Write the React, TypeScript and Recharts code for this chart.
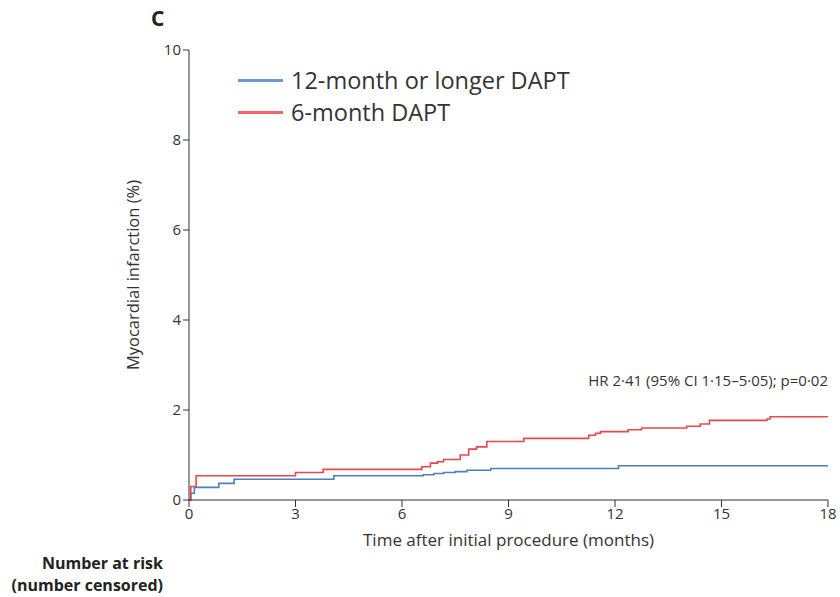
import React from 'react';
import { LineChart, Line, XAxis, YAxis, Label } from 'recharts';

// months after procedure / cumulative MI (%)
const longerTimes = [0, 0.05, 0.15, 0.84, 1.27, 4.08, 6.6, 6.9, 7.17, 7.5, 7.83, 8.5, 12.1, 18];
const longerValues = [0, 0.15, 0.28, 0.37, 0.46, 0.54, 0.56, 0.59, 0.61, 0.63, 0.66, 0.7, 0.76, 0.76];

const sixTimes = [0, 0.05, 0.2, 3.0, 3.78, 6.56, 6.8, 7.0, 7.17, 7.64, 7.88, 8.1, 8.39, 9.43, 11.26, 11.45, 11.59, 12.37, 12.75, 14.02, 14.4, 14.66, 16.28, 16.37, 18];
const sixValues = [0, 0.3, 0.54, 0.61, 0.68, 0.74, 0.82, 0.85, 0.9, 1.0, 1.13, 1.18, 1.3, 1.37, 1.44, 1.48, 1.52, 1.56, 1.6, 1.64, 1.69, 1.77, 1.8, 1.85, 1.85];

const xTicks = [0, 3, 6, 9, 12, 15, 18];
const yTicks = [0, 2, 4, 6, 8, 10];

const seriesNames = ['12-month or longer DAPT', '6-month DAPT'];
const riskLabels = ['Number at risk', '(number censored)'];
const BLUE = '#4a7fc0';
const RED = '#e5484d';
const FONT = '"Open Sans", Lato, sans-serif';
const INK = '#333';

const toPoints = (ts: number[], vs: number[]) => ts.map((t, i) => ({ t, v: vs[i] }));
const longerData = toPoints(longerTimes, longerValues);
const sixData = toPoints(sixTimes, sixValues);

export default function App() {
  const tickStyle = { fontSize: 15, fill: INK, fontFamily: FONT };
  return (
    <div style={{ position: 'absolute', left: 0, top: 0, width: 840, height: 597, background: '#fff', fontFamily: FONT }}>
      <div style={{ position: 'absolute', left: 151, top: 4, fontSize: 21, fontWeight: 700, color: '#222' }}>C</div>
      <LineChart width={840} height={597} margin={{ top: 50, right: 12, bottom: 49, left: 129 }}>
        <XAxis
          type="number"
          dataKey="t"
          domain={[0, 18]}
          ticks={xTicks}
          interval={0}
          height={48}
          tick={tickStyle}
          tickSize={7}
          tickMargin={1}
          stroke={INK}
          allowDataOverflow
        >
          <Label value="Time after initial procedure (months)" position="insideBottom" offset={2} style={{ fontSize: 17, fill: INK, fontFamily: FONT }} />
        </XAxis>
        <YAxis
          type="number"
          domain={[0, 10]}
          ticks={yTicks}
          interval={0}
          width={60}
          tick={tickStyle}
          tickSize={6}
          tickMargin={2}
          stroke={INK}
        >
          <Label value="Myocardial infarction (%)" angle={-90} position="insideLeft" offset={4} style={{ fontSize: 16.5, fill: INK, fontFamily: FONT, textAnchor: 'middle' }} />
        </YAxis>
        <Line data={longerData} dataKey="v" type="stepAfter" stroke={BLUE} strokeWidth={1.6} dot={false} isAnimationActive={false} name={seriesNames[0]} />
        <Line data={sixData} dataKey="v" type="stepAfter" stroke={RED} strokeWidth={1.6} dot={false} isAnimationActive={false} name={seriesNames[1]} />
      </LineChart>
      <div style={{ position: 'absolute', left: 238, top: 64, fontSize: 23.5, color: INK }}>
        {seriesNames.map((name, i) => (
          <div key={name} style={{ display: 'flex', alignItems: 'center', height: 32, whiteSpace: 'nowrap' }}>
            <span style={{ display: 'inline-block', width: 45, height: 3, background: i === 0 ? '#6f9bd0' : '#f0646a', marginRight: 8 }} />
            {name}
          </div>
        ))}
      </div>
      <div style={{ position: 'absolute', right: 12, top: 370, fontSize: 15, color: INK, whiteSpace: 'nowrap' }}>
        HR 2·41 (95% CI 1·15–5·05); p=0·02
      </div>
      <div style={{ position: 'absolute', right: 677, top: 552, fontSize: 16, fontWeight: 700, color: '#222', textAlign: 'right', whiteSpace: 'nowrap' }}>
        {riskLabels.map((s) => (
          <div key={s} style={{ lineHeight: '22px' }}>{s}</div>
        ))}
      </div>
    </div>
  );
}
